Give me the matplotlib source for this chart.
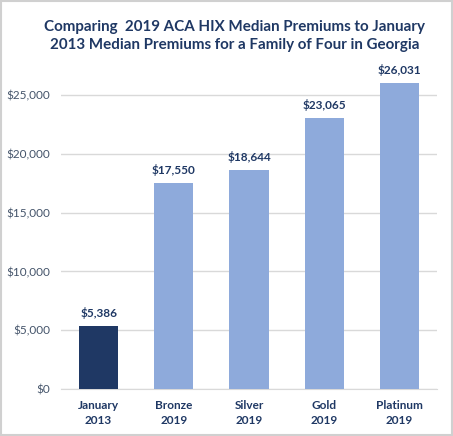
import numpy as np
import matplotlib.pyplot as plt
from matplotlib.patches import Rectangle

categories = ['January\n2013', 'Bronze\n2019', 'Silver\n2019', 'Gold\n2019', 'Platinum\n2019']
premiums = [5386, 17550, 18644, 23065, 26031]
colors = ['#1F3864', '#8EAADB', '#8EAADB', '#8EAADB', '#8EAADB']
yticks = [0, 5000, 10000, 15000, 20000, 25000]

plt.rcParams['font.family'] = ['Lato', 'DejaVu Sans']
navy = '#1F3864'

fig = plt.figure(figsize=(4.53, 4.36), dpi=100)
# axes: left 61px, right 437px, bottom y=389px, top for 27000
ax = fig.add_axes([61/453, 1 - 389/436, 376/453, (389 - 71.5)/436])

x = np.arange(len(categories))
bars = ax.bar(x, premiums, 0.52, color=colors, zorder=3)

for b, v in zip(bars, premiums):
    ax.text(b.get_x() + b.get_width()/2, v + 550, '${:,}'.format(v),
            ha='center', va='bottom', fontsize=8.5, weight='bold', color=navy, clip_on=False)

ax.set_xlim(-0.5, len(categories) - 0.5)
ax.set_ylim(0, 27000)
ax.set_yticks(yticks)
ax.set_yticklabels(['${:,}'.format(t) for t in yticks], fontsize=8.5, color='#44546A')
ax.set_xticks(x)
ax.set_xticklabels(categories, fontsize=8.5, weight='bold', color=navy, linespacing=1.45)
ax.tick_params(axis='y', length=0, pad=8)
ax.tick_params(axis='x', length=0, pad=8)
ax.yaxis.grid(True, color='#D9D9D9', linewidth=1, zorder=0)
for s in ['top', 'right', 'left']:
    ax.spines[s].set_visible(False)
ax.spines['bottom'].set_color('#D9D9D9')

fig.text(0.518, 1 - 36/436, 'Comparing  2019 ACA HIX Median Premiums to January\n2013 Median Premiums for a Family of Four in Georgia',
         ha='center', va='center', fontsize=10.9, weight='bold', color=navy, linespacing=1.45)

fig.patches.append(Rectangle((0.003, 0.003), 0.994, 0.994, transform=fig.transFigure,
                             fill=False, edgecolor='#D0D0D0', linewidth=1.5))

plt.savefig('out.png', dpi=100)
